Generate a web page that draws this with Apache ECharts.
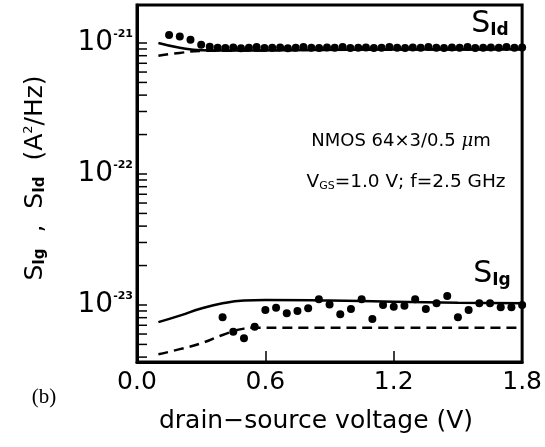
<!DOCTYPE html>
<html>
<head>
<meta charset="utf-8">
<script src="https://cdn.jsdelivr.net/npm/echarts@6/dist/echarts.min.js"></script>
<style>
  html, body { margin: 0; padding: 0; background: #fff; }
  #chart { width: 545px; height: 447px; }
</style>
</head>
<body>
<div id="chart"></div>
<script>
// drain-source voltage (V) and noise spectral densities (A^2/Hz)
const idDotsX = [0.15, 0.20, 0.25, 0.30, 0.34, 0.377, 0.413, 0.45, 0.486, 0.523, 0.559, 0.596, 0.632, 0.669,
  0.705, 0.742, 0.778, 0.815, 0.851, 0.888, 0.924, 0.961, 0.997, 1.034, 1.07, 1.107, 1.143, 1.18, 1.216,
  1.253, 1.289, 1.326, 1.362, 1.399, 1.435, 1.472, 1.508, 1.545, 1.581, 1.618, 1.654, 1.691, 1.727, 1.764, 1.80];
const idDotsY = [1.15e-21, 1.12e-21, 1.06e-21, 0.97e-21, 0.935e-21, 0.92e-21, 0.915e-21, 0.925e-21, 0.91e-21,
  0.92e-21, 0.93e-21, 0.915e-21, 0.92e-21, 0.925e-21, 0.91e-21, 0.92e-21, 0.93e-21, 0.92e-21, 0.915e-21,
  0.925e-21, 0.92e-21, 0.93e-21, 0.915e-21, 0.92e-21, 0.925e-21, 0.915e-21, 0.92e-21, 0.93e-21, 0.92e-21,
  0.915e-21, 0.925e-21, 0.92e-21, 0.93e-21, 0.92e-21, 0.915e-21, 0.925e-21, 0.92e-21, 0.93e-21, 0.915e-21,
  0.92e-21, 0.925e-21, 0.92e-21, 0.93e-21, 0.92e-21, 0.925e-21];

const idSolidX = [0.1, 0.2, 0.3, 0.5, 0.8, 1.2, 1.8];
const idSolidY = [1.0e-21, 0.92e-21, 0.88e-21, 0.875e-21, 0.885e-21, 0.89e-21, 0.895e-21];
const idDashX = [0.1, 0.2, 0.3, 0.5, 0.8, 1.2, 1.8];
const idDashY = [0.80e-21, 0.84e-21, 0.87e-21, 0.875e-21, 0.885e-21, 0.89e-21, 0.895e-21];

const igDotsX = [0.40, 0.45, 0.50, 0.55, 0.60, 0.65, 0.70, 0.75, 0.80, 0.85, 0.90, 0.95, 1.00, 1.05, 1.10,
  1.15, 1.20, 1.25, 1.30, 1.35, 1.40, 1.45, 1.50, 1.55, 1.60, 1.65, 1.70, 1.75, 1.80];
const igDotsY = [8.05e-24, 6.25e-24, 5.57e-24, 6.83e-24, 9.16e-24, 9.53e-24, 8.65e-24, 9.0e-24, 9.44e-24,
  1.106e-23, 1.01e-23, 8.49e-24, 9.31e-24, 1.106e-23, 7.82e-24, 1.0e-23, 9.71e-24, 9.88e-24, 1.106e-23,
  9.31e-24, 1.03e-23, 1.17e-23, 8.05e-24, 9.16e-24, 1.03e-23, 1.03e-23, 9.6e-24, 9.6e-24, 1.0e-23];

const igSolidX = [0.1, 0.2, 0.3, 0.4, 0.5, 0.6, 0.9, 1.2, 1.5, 1.8];
const igSolidY = [7.4e-24, 8.3e-24, 9.4e-24, 1.03e-23, 1.08e-23, 1.09e-23, 1.08e-23, 1.06e-23, 1.04e-23, 1.03e-23];
const igDashX = [0.1, 0.2, 0.3, 0.4, 0.5, 0.55, 0.8, 1.2, 1.5, 1.78];
const igDashY = [4.2e-24, 4.6e-24, 5.1e-24, 5.9e-24, 6.6e-24, 6.7e-24, 6.7e-24, 6.7e-24, 6.7e-24, 6.7e-24];

// y axis range and minor tick values of the log axis
const yMin = 3.67e-24;
const yMax = 1.95e-21;
const minorTicks = [4e-24, 5e-24, 6e-24, 7e-24, 8e-24, 9e-24,
  2e-23, 3e-23, 4e-23, 5e-23, 6e-23, 7e-23, 8e-23, 9e-23,
  2e-22, 3e-22, 4e-22, 5e-22, 6e-22, 7e-22, 8e-22, 9e-22];

const xTicks = [0, 0.6, 1.2, 1.8];

// echarts v6 log scale collapses extents this small, so plot in units of 1e-24 A^2/Hz
const UNIT = 24;
const sc = v => v * Math.pow(10, UNIT);
const zip = (xs, ys) => xs.map((x, i) => [x, sc(ys[i])]);
const FONT = 'DejaVu Sans';

const chart = echarts.init(document.getElementById('chart'));

const option = {
  animation: false,
  backgroundColor: '#fff',
  grid: {
    left: 137, right: 22, top: 5, bottom: 85,
    show: true, borderColor: '#000', borderWidth: 3
  },
  xAxis: {
    type: 'value',
    min: xTicks[0],
    max: xTicks[xTicks.length - 1],
    interval: 0.6,
    splitLine: { show: false },
    axisLine: { lineStyle: { color: '#000', width: 3 } },
    axisTick: { inside: true, length: 11, lineStyle: { color: '#000', width: 1.5 } },
    axisLabel: {
      color: '#000', fontFamily: FONT, fontSize: 25, margin: 8,
      formatter: v => v.toFixed(1)
    }
  },
  yAxis: {
    type: 'log',
    min: sc(yMin),
    max: sc(yMax),
    splitLine: { show: false },
    axisLine: { lineStyle: { color: '#000', width: 3 } },
    axisTick: { inside: true, length: 10, lineStyle: { color: '#000', width: 1.5 } },
    axisLabel: {
      margin: 4,
      showMinLabel: false,
      showMaxLabel: false,
      formatter: v => {
        const l = Math.log10(v);
        const e = Math.round(l);
        if (Math.abs(l - e) > 1e-6) return '';
        return '{b|10}{s|-' + (UNIT - e) + '}';
      },
      rich: {
        b: { fontFamily: FONT, fontSize: 28, color: '#000' },
        s: { fontFamily: FONT, fontSize: 11, fontWeight: 'bold', color: '#000', verticalAlign: 'top' }
      }
    }
  },
  graphic: [
    {
      type: 'text', x: 316, y: 421,
      style: {
        text: 'drain\u2212source voltage (V)', fontFamily: FONT, fontSize: 25, fill: '#000',
        align: 'center', verticalAlign: 'middle'
      }
    },
    {
      type: 'text', x: 35, y: 178, rotation: Math.PI / 2,
      style: {
        text: '{m|S}{d|Ig}{m|  ,  S}{d|Id}{m|  (A}{u|2}{m|/Hz)}',
        align: 'center', verticalAlign: 'middle',
        rich: {
          m: { fontFamily: FONT, fontSize: 25, fill: '#000' },
          d: { fontFamily: FONT, fontSize: 15, fontWeight: 'bold', fill: '#000', verticalAlign: 'bottom' },
          u: { fontFamily: FONT, fontSize: 13, fill: '#000', verticalAlign: 'top' }
        }
      }
    },
    {
      type: 'text', x: 44, y: 397,
      style: { text: '(b)', fontFamily: 'Liberation Serif', fontSize: 21, fill: '#000', align: 'center', verticalAlign: 'middle' }
    },
    {
      type: 'text', x: 401, y: 141,
      style: {
        text: '{t|NMOS 64\u00d73/0.5 }{g|\u03bc}{t|m}',
        align: 'center', verticalAlign: 'middle',
        rich: {
          t: { fontFamily: FONT, fontSize: 18, fill: '#000' },
          g: { fontFamily: 'DejaVu Serif', fontStyle: 'italic', fontSize: 18, fill: '#000' }
        }
      }
    },
    {
      type: 'text', x: 406, y: 182,
      style: {
        text: '{t|V}{d|GS}{t|=1.0 V; f=2.5 GHz}',
        align: 'center', verticalAlign: 'middle',
        rich: {
          t: { fontFamily: FONT, fontSize: 18.5, fill: '#000' },
          d: { fontFamily: FONT, fontSize: 11, fill: '#000', verticalAlign: 'bottom' }
        }
      }
    },
    {
      type: 'text', x: 490, y: 24,
      style: {
        text: '{s|S}{d|Id}', align: 'center', verticalAlign: 'middle',
        rich: {
          s: { fontFamily: FONT, fontSize: 30, fill: '#000' },
          d: { fontFamily: FONT, fontSize: 17, fontWeight: 'bold', fill: '#000', verticalAlign: 'bottom' }
        }
      }
    },
    {
      type: 'text', x: 492, y: 274,
      style: {
        text: '{s|S}{d|Ig}', align: 'center', verticalAlign: 'middle',
        rich: {
          s: { fontFamily: FONT, fontSize: 30, fill: '#000' },
          d: { fontFamily: FONT, fontSize: 17, fontWeight: 'bold', fill: '#000', verticalAlign: 'bottom' }
        }
      }
    }
  ],
  series: [
    {
      type: 'custom',
      silent: true,
      clip: false,
      data: minorTicks.map(v => [0, sc(v)]),
      renderItem: (params, api) => {
        const p = api.coord([0, api.value(1)]);
        return {
          type: 'line',
          shape: { x1: p[0], y1: p[1], x2: p[0] + 10, y2: p[1] },
          style: { stroke: '#000', lineWidth: 1.5 }
        };
      }
    },
    {
      name: 'Id model', type: 'line', smooth: true, symbol: 'none',
      data: zip(idSolidX, idSolidY),
      lineStyle: { color: '#000', width: 2.5 }
    },
    {
      name: 'Id model dashed', type: 'line', smooth: true, symbol: 'none',
      data: zip(idDashX, idDashY),
      lineStyle: { color: '#000', width: 2.5, type: [10, 6] }
    },
    {
      name: 'Ig model', type: 'line', smooth: true, symbol: 'none',
      data: zip(igSolidX, igSolidY),
      lineStyle: { color: '#000', width: 2.5 }
    },
    {
      name: 'Ig model dashed', type: 'line', smooth: true, symbol: 'none',
      data: zip(igDashX, igDashY),
      lineStyle: { color: '#000', width: 2.5, type: [10, 6] }
    },
    {
      name: 'S_Id', type: 'scatter', symbol: 'circle', symbolSize: 8,
      data: zip(idDotsX, idDotsY),
      itemStyle: { color: '#000', opacity: 1 }
    },
    {
      name: 'S_Ig', type: 'scatter', symbol: 'circle', symbolSize: 8,
      data: zip(igDotsX, igDotsY),
      itemStyle: { color: '#000', opacity: 1 }
    }
  ]
};

chart.setOption(option);
</script>
</body>
</html>
